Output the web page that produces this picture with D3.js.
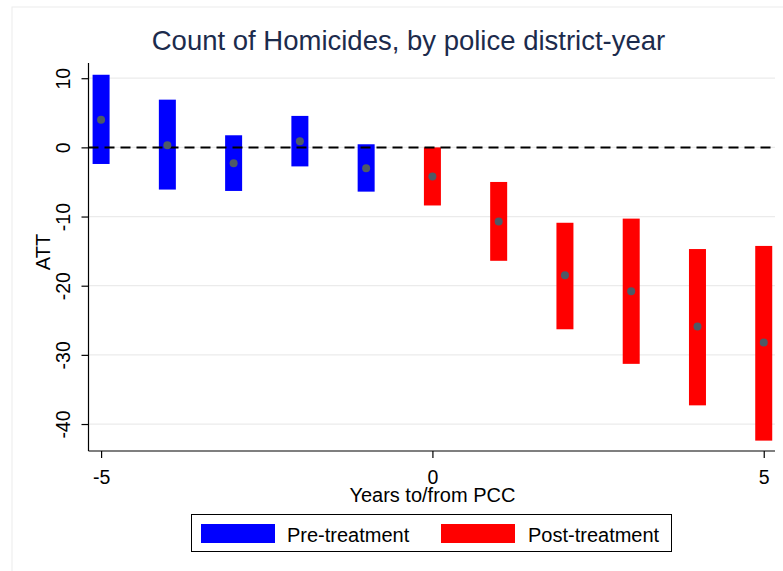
<!DOCTYPE html>
<html>
<head>
<meta charset="utf-8">
<script src="https://cdn.jsdelivr.net/npm/d3@7"></script>
<style>
  html, body { margin: 0; padding: 0; background: #ffffff; }
  svg { display: block; font-family: "Liberation Sans", Arial, sans-serif; }
</style>
</head>
<body>
<svg id="chart" width="783" height="571"></svg>
<script>
// Event-time offsets (years to/from PCC)
const years = [-5, -4, -3, -2, -1, 0, 1, 2, 3, 4, 5];
// Point estimates of the ATT
const att = [4.0, 0.3, -2.3, 0.9, -3.0, -4.2, -10.7, -18.5, -20.8, -25.9, -28.2];
// Confidence interval bounds
const ciLow = [-2.4, -6.1, -6.3, -2.75, -6.4, -8.4, -16.4, -26.3, -31.3, -37.3, -42.4];
const ciHigh = [10.5, 6.9, 1.75, 4.55, 0.45, 0.0, -5.0, -10.9, -10.3, -14.7, -14.25];
// Axis ticks
const yTicks = [10, 0, -10, -20, -30, -40];
const xTicks = [-5, 0, 5];
// Legend entries
const groups = ["Pre-treatment", "Post-treatment"];
const groupColors = ["#0000ff", "#ff0000"];

const rows = years.map((t, i) => ({
  t, est: att[i], lo: ciLow[i], hi: ciHigh[i], group: t < 0 ? 0 : 1
}));

const svg = d3.select("#chart");
const W = 783, H = 571;
const FONT = "'Liberation Sans', Arial, sans-serif";

// Faint outer graph-region border
svg.append("rect")
  .attr("x", 12).attr("y", 7).attr("width", W).attr("height", H)
  .attr("fill", "#ffffff").attr("stroke", "#ececec").attr("stroke-width", 1);

const plot = { left: 88.5, right: 775, top: 63, bottom: 451 };

const x = d3.scaleLinear().domain([-5.19, 5.17]).range([plot.left, plot.right]);
const y = d3.scaleLinear().domain([12.2, -43.9]).range([plot.top, plot.bottom]);

// Title
svg.append("text")
  .attr("x", 408.5).attr("y", 50)
  .attr("text-anchor", "middle")
  .attr("font-size", 27.5)
  .attr("fill", "#1c2b4c")
  .text("Count of Homicides, by police district-year");

// Horizontal gridlines
svg.append("g").selectAll("line").data(yTicks).join("line")
  .attr("x1", plot.left).attr("x2", plot.right)
  .attr("y1", d => y(d)).attr("y2", d => y(d))
  .attr("stroke", "#ebebeb").attr("stroke-width", 1.2);

// Y axis
const yAxis = svg.append("g")
  .attr("transform", `translate(${plot.left},0)`)
  .call(d3.axisLeft(y).tickValues(yTicks).tickSize(7).tickSizeOuter(0).tickFormat(d3.format("d")));
yAxis.select(".domain").attr("stroke", "#000").attr("stroke-width", 1.2)
  .attr("d", `M0,${plot.top}V${plot.bottom}`);
yAxis.selectAll(".tick line").attr("stroke", "#000").attr("stroke-width", 1.2);
yAxis.selectAll(".tick text")
  .attr("font-size", 19.5).attr("fill", "#000")
  .attr("font-family", FONT)
  .attr("x", null).attr("dy", null)
  .attr("text-anchor", "middle")
  .attr("transform", "translate(-19,0) rotate(-90)")
  .text(d => d3.format("d")(d).replace("\u2212", "-"));

// X axis
const xAxis = svg.append("g")
  .attr("transform", `translate(0,${plot.bottom})`)
  .call(d3.axisBottom(x).tickValues(xTicks).tickSize(7).tickSizeOuter(0).tickFormat(d3.format("d")));
xAxis.select(".domain").attr("stroke", "#000").attr("stroke-width", 1.2)
  .attr("d", `M${plot.left},0H${plot.right}`);
xAxis.selectAll(".tick line").attr("stroke", "#000").attr("stroke-width", 1.2);
xAxis.selectAll(".tick text")
  .attr("font-size", 19.5).attr("fill", "#000")
  .attr("font-family", FONT)
  .attr("y", 32.5).attr("dy", null)
  .text(d => d3.format("d")(d).replace("\u2212", "-"));

// Axis titles
svg.append("text")
  .attr("transform", `translate(50,252) rotate(-90)`)
  .attr("text-anchor", "middle")
  .attr("font-size", 20).attr("fill", "#000")
  .text("ATT");
svg.append("text")
  .attr("x", x(0)).attr("y", 501.5)
  .attr("text-anchor", "middle")
  .attr("font-size", 20).attr("fill", "#000")
  .text("Years to/from PCC");

// Confidence-interval bars
const barW = 17;
svg.append("g").selectAll("rect").data(rows).join("rect")
  .attr("x", d => x(d.t) - barW / 2)
  .attr("width", barW)
  .attr("y", d => y(d.hi))
  .attr("height", d => y(d.lo) - y(d.hi))
  .attr("fill", d => groupColors[d.group]);

// Zero reference line
svg.append("line")
  .attr("x1", plot.left).attr("x2", plot.right)
  .attr("y1", y(0)).attr("y2", y(0))
  .attr("stroke", "#000").attr("stroke-width", 2)
  .attr("stroke-dasharray", "10,6");

// Point estimates
svg.append("g").selectAll("circle").data(rows).join("circle")
  .attr("cx", d => x(d.t)).attr("cy", d => y(d.est))
  .attr("r", 4)
  .attr("fill", "#4e5a66");

// Legend
const lg = svg.append("g");
lg.append("rect")
  .attr("x", 191.5).attr("y", 514.5).attr("width", 480).attr("height", 37)
  .attr("fill", "#fff").attr("stroke", "#000").attr("stroke-width", 1);
const swX = [201, 441], txX = [287, 528];
groups.forEach((g, i) => {
  lg.append("rect")
    .attr("x", swX[i]).attr("y", 524).attr("width", 74).attr("height", 19)
    .attr("fill", groupColors[i]);
  lg.append("text")
    .attr("x", txX[i]).attr("y", 541.5)
    .attr("font-size", 20).attr("fill", "#000")
    .text(g);
});
</script>
</body>
</html>
